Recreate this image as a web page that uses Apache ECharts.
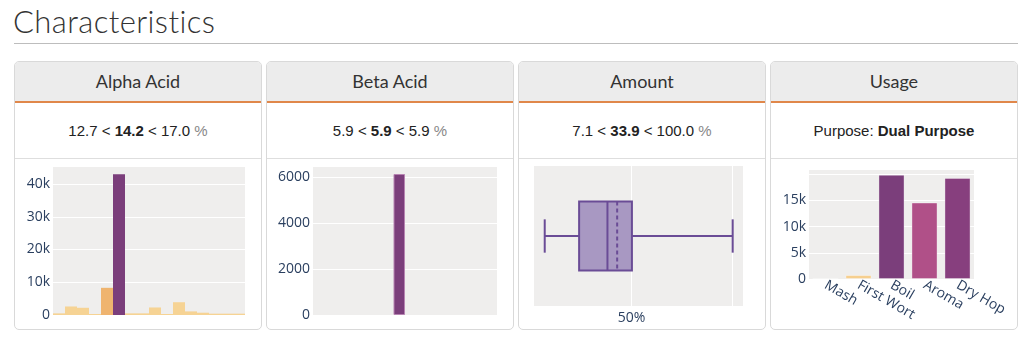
<!DOCTYPE html>
<html>
<head>
<meta charset="utf-8">
<script src="https://cdn.jsdelivr.net/npm/echarts@6/dist/echarts.min.js"></script>
<style>
  html, body { margin: 0; padding: 0; background: #fff; width: 1024px; height: 339px; overflow: hidden; }
  .title { position: absolute; left: 13px; top: 2px; font-family: Lato, "Open Sans", sans-serif; font-weight: 300; font-size: 31px; color: #333; letter-spacing: 0.4px; }
  .rule { position: absolute; left: 14px; top: 43px; width: 1004px; height: 1px; background: #bdbdbd; }
  .card { position: absolute; top: 61px; width: 246px; height: 267px; border: 1px solid #d9d9d9; border-radius: 5px; overflow: hidden; background: #fff; }
  .head { position: absolute; left: 0; top: 0; width: 100%; height: 39px; background: #ececec; border-bottom: 2px solid #e0874a; text-align: center; line-height: 39px; font-family: Lato, "Open Sans", sans-serif; font-size: 18px; color: #333; }
  .stat { position: absolute; left: 0; top: 41px; width: 100%; height: 55px; border-bottom: 1px solid #dedede; text-align: center; line-height: 55px; font-family: "Liberation Sans", Arial, sans-serif; font-size: 15px; color: #222; }
  .stat b { font-weight: bold; }
  .stat .u { color: #888; }
  .chart { position: absolute; left: 0; top: 97px; width: 246px; height: 170px; }
</style>
</head>
<body>
<div class="title">Characteristics</div>
<div class="rule"></div>

<div class="card" style="left:14px"><div class="head">Alpha Acid</div><div class="stat">12.7 &lt; <b>14.2</b> &lt; 17.0 <span class="u">%</span></div><div class="chart" id="c1"></div></div>
<div class="card" style="left:266px"><div class="head">Beta Acid</div><div class="stat">5.9 &lt; <b>5.9</b> &lt; 5.9 <span class="u">%</span></div><div class="chart" id="c2"></div></div>
<div class="card" style="left:518px"><div class="head">Amount</div><div class="stat">7.1 &lt; <b>33.9</b> &lt; 100.0 <span class="u">%</span></div><div class="chart" id="c3"></div></div>
<div class="card" style="left:770px"><div class="head">Usage</div><div class="stat">Purpose: <b>Dual Purpose</b></div><div class="chart" id="c4"></div></div>

<script>
// ---- data ----
const alphaBins = ['b0','b1','b2','b3','b4','b5','b6','b7','b8','b9','b10','b11','b12','b13','b14','b15'];
const alphaCounts = [500, 2600, 2200, 300, 8300, 43000, 500, 500, 2300, 300, 3900, 1100, 700, 400, 400, 400];
const alphaKind = ['o','o','o','o','d','p','o','o','o','o','o','o','o','o','o','o'];

const betaBins = ['b0','b1','b2','b3','b4','b5','b6','b7','b8','b9','b10','b11','b12','b13','b14','b15'];
const betaCounts = [0, 0, 0, 0, 0, 0, 0, 6150, 0, 0, 0, 0, 0, 0, 0, 0];

const amountBox = { min: 7.1, q1: 24.1, median: 38.1, q3: 50.2, max: 100, mean: 42.9 };
const amountGrid = [50, 100];
const amountTickLabels = { 50: '50%' };

const usageCats = ['Mash', 'First Wort', 'Boil', 'Aroma', 'Dry Hop'];
const usageValues = [60, 750, 19900, 14600, 19300];

// ---- style ----
const FONT = '"Open Sans", "DejaVu Sans", sans-serif';
const FS = 14;
const LBL = '#2a3f5f';
const BG = '#efeeed';
const kindColor = { o: '#f6d394', d: '#efb46f', p: '#7b3e7b' };
const usageColors = ['#fae3bd', '#f6cf8e', '#7b3e7b', '#b05088', '#873f7e'];

function kfmt(v) { return v === 0 ? '0' : (v / 1000) + 'k'; }

// Alpha Acid
echarts.init(document.getElementById('c1')).setOption({
  animation: false,
  grid: { left: 38, right: 16, top: 7, bottom: 14, show: true, backgroundColor: BG, borderWidth: 0 },
  xAxis: { type: 'category', data: alphaBins, axisLine: { show: false }, axisTick: { show: false }, axisLabel: { show: false } },
  yAxis: { type: 'value', min: 0, max: 45500, interval: 10000,
    axisLabel: { formatter: kfmt, color: LBL, fontFamily: FONT, fontSize: FS, margin: 3, showMaxLabel: false },
    splitLine: { lineStyle: { color: '#ffffff', width: 1 } } },
  series: [{ type: 'bar', barCategoryGap: '0%',
    data: alphaCounts.map((v, i) => ({ value: v, itemStyle: { color: kindColor[alphaKind[i]] } })) }]
});

// Beta Acid
echarts.init(document.getElementById('c2')).setOption({
  animation: false,
  grid: { left: 46, right: 16, top: 7, bottom: 14, show: true, backgroundColor: BG, borderWidth: 0 },
  xAxis: { type: 'category', data: betaBins, axisLine: { show: false }, axisTick: { show: false }, axisLabel: { show: false } },
  yAxis: { type: 'value', min: 0, max: 6500, interval: 2000,
    axisLabel: { formatter: v => String(v), color: LBL, fontFamily: FONT, fontSize: FS, margin: 3, showMaxLabel: false },
    splitLine: { lineStyle: { color: '#ffffff', width: 1 } } },
  series: [{ type: 'bar', barCategoryGap: '0%',
    data: betaCounts.map(v => ({ value: v, itemStyle: { color: '#7b3e7b', borderColor: '#b784b2', borderWidth: v > 0 ? 1 : 0 } })) }]
});

// Amount (box plot via custom series)
echarts.init(document.getElementById('c3')).setOption({
  animation: false,
  grid: { left: 15, right: 22, top: 7, bottom: 23, show: true, backgroundColor: BG, borderWidth: 0 },
  xAxis: { type: 'value', min: 1.8, max: 105.1, axisLine: { show: false }, axisTick: { show: false }, axisLabel: { show: false }, splitLine: { show: false } },
  yAxis: { type: 'value', min: 0, max: 1, show: false },
  series: [{
    type: 'custom',
    data: [[amountBox.min, amountBox.q1, amountBox.median, amountBox.q3, amountBox.max, amountBox.mean]],
    encode: { x: [0, 1, 2, 3, 4, 5] },
    renderItem: function (params, api) {
      const c = 0.5;
      const p = (x, y) => api.coord([api.value(x), y]);
      const lineC = '#6a4c96', W = 2;
      const pMin = p(0, c), pQ1 = p(1, c), pMed = p(2, c), pQ3 = p(3, c), pMax = p(4, c), pMean = p(5, c);
      const yBoxT = api.coord([0, c + 0.247])[1], yBoxB = api.coord([0, c - 0.247])[1];
      const yCapT = api.coord([0, c + 0.119])[1], yCapB = api.coord([0, c - 0.119])[1];
      const ls = { stroke: lineC, lineWidth: W, fill: null };
      return { type: 'group', children: [
        { type: 'line', shape: { x1: pMin[0], y1: pMin[1], x2: pQ1[0], y2: pMin[1] }, style: ls },
        { type: 'line', shape: { x1: pQ3[0], y1: pMin[1], x2: pMax[0], y2: pMin[1] }, style: ls },
        { type: 'line', shape: { x1: pMin[0], y1: yCapT, x2: pMin[0], y2: yCapB }, style: ls },
        { type: 'line', shape: { x1: pMax[0], y1: yCapT, x2: pMax[0], y2: yCapB }, style: ls },
        { type: 'rect', shape: { x: pQ1[0], y: yBoxT, width: pQ3[0] - pQ1[0], height: yBoxB - yBoxT }, style: { fill: '#a898c2', stroke: lineC, lineWidth: W } },
        { type: 'line', shape: { x1: pMed[0], y1: yBoxT, x2: pMed[0], y2: yBoxB }, style: ls },
        { type: 'line', shape: { x1: pMean[0], y1: yBoxT, x2: pMean[0], y2: yBoxB }, style: { stroke: lineC, lineWidth: W, lineDash: [4, 3], fill: null } }
      ] };
    },
    markLine: {
      silent: true, symbol: 'none', z: 1,
      lineStyle: { color: '#ffffff', width: 1, type: 'solid' },
      label: { position: 'start', distance: 5, color: LBL, fontFamily: FONT, fontSize: FS,
        formatter: p => amountTickLabels[p.value] || '' },
      data: amountGrid.map(v => ({ xAxis: v }))
    },
    z: 2
  }]
});

// Usage
echarts.init(document.getElementById('c4')).setOption({
  animation: false,
  grid: { left: 38, right: 43, top: 10, bottom: 50, show: true, backgroundColor: BG, borderWidth: 0 },
  xAxis: { type: 'category', data: usageCats, axisLine: { show: false }, axisTick: { show: false },
    axisLabel: { rotate: -30, color: LBL, fontFamily: FONT, fontSize: FS, margin: 5, interval: 0 } },
  yAxis: { type: 'value', min: 0, max: 21000, interval: 5000,
    axisLabel: { formatter: v => v >= 20000 ? '' : kfmt(v), color: LBL, fontFamily: FONT, fontSize: FS, margin: 3, showMaxLabel: false },
    splitLine: { lineStyle: { color: '#ffffff', width: 1 } } },
  series: [{ type: 'bar', barCategoryGap: '21%',
    data: usageValues.map((v, i) => ({ value: v, itemStyle: { color: usageColors[i], borderColor: 'rgba(255,255,255,0.35)', borderWidth: 1 } })) }]
});
</script>
</body>
</html>
